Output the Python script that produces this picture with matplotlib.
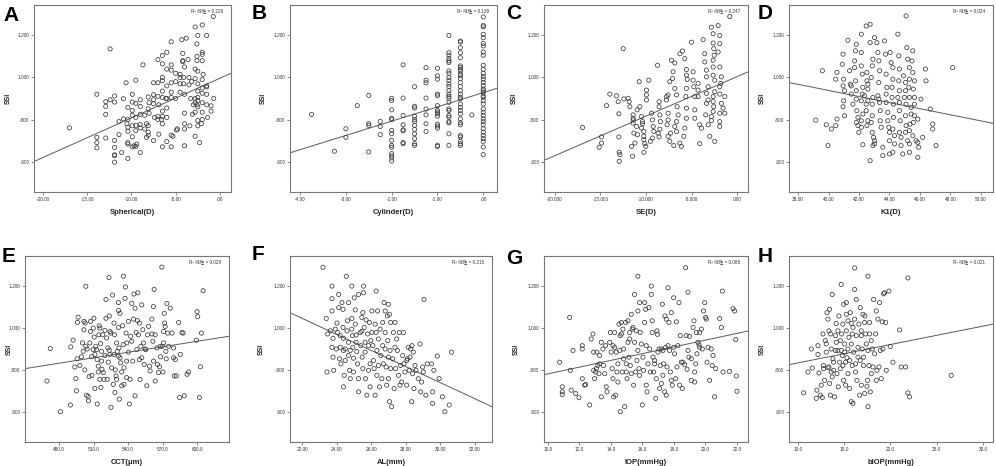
import matplotlib
matplotlib.use('Agg')
import matplotlib.pyplot as plt
from matplotlib.ticker import FuncFormatter

# points: (x value, SSI)
spherical_pts = [
    (-17.0, 0.76), (-13.9, 0.92), (-13.9, 0.715), (-13.9, 0.69), (-13.9, 0.665), (-12.9, 0.885), (-12.9, 0.862),
    (-12.9, 0.824), (-12.9, 0.712), (-12.4, 1.136), (-12.4, 0.894), (-11.9, 0.912), (-11.9, 0.883), (-11.9, 0.70),
    (-11.9, 0.667), (-11.9, 0.632), (-11.9, 0.628), (-11.9, 0.597), (-11.4, 0.79), (-11.4, 0.728), (-11.1, 0.643),
    (-10.9, 0.899), (-10.9, 0.803), (-10.6, 0.975), (-10.5, 0.78), (-10.4, 0.763), (-10.4, 0.615), (-10.4, 0.744),
    (-10.4, 0.683), (-10.4, 0.858), (-10.4, 0.80), (-10.4, 0.69), (-9.9, 0.92), (-9.9, 0.883), (-9.9, 0.843),
    (-9.9, 0.82), (-9.9, 0.77), (-9.9, 0.718), (-9.9, 0.67), (-9.7, 0.675), (-9.5, 0.987), (-9.5, 0.877), (-9.5, 0.81),
    (-9.5, 0.772), (-9.5, 0.747), (-9.5, 0.672), (-9.4, 0.683), (-9.0, 0.894), (-9.0, 0.862), (-9.0, 0.824),
    (-9.0, 0.776), (-9.0, 0.643), (-9.0, 0.76), (-8.7, 1.06), (-8.5, 0.82), (-8.5, 0.755), (-8.3, 0.78), (-8.3, 0.715),
    (-8.1, 0.907), (-8.1, 0.851), (-8.1, 0.771), (-8.1, 0.74), (-8.1, 0.725), (-8.0, 0.83), (-8.0, 0.88), (-7.5, 0.918),
    (-7.5, 0.894), (-7.5, 0.875), (-7.5, 0.70), (-7.5, 0.975), (-7.4, 0.81), (-7.0, 1.085), (-7.0, 0.975), (-7.0, 0.91),
    (-7.0, 0.80), (-7.0, 0.815), (-6.9, 0.73), (-6.9, 0.87), (-6.5, 1.105), (-6.5, 1.065), (-6.5, 1.0), (-6.5, 0.985),
    (-6.5, 0.935), (-6.5, 0.905), (-6.5, 0.84), (-6.5, 0.815), (-6.5, 0.78), (-6.5, 0.67), (-6.6, 0.80), (-6.0, 1.12),
    (-6.0, 1.04), (-6.0, 0.96), (-6.0, 0.90), (-6.0, 0.855), (-6.0, 0.81), (-6.0, 0.695), (-6.1, 0.9), (-5.5, 1.17),
    (-5.5, 1.06), (-5.5, 1.035), (-5.5, 0.975), (-5.5, 0.93), (-5.5, 0.905), (-5.5, 0.725), (-5.5, 0.67), (-5.3, 0.72),
    (-5.0, 0.90), (-5.0, 1.02), (-5.0, 0.98), (-4.8, 0.755), (-4.9, 0.75), (-4.5, 0.97), (-4.5, 1.0), (-4.5, 1.015),
    (-4.5, 0.93), (-4.3, 1.18), (-4.2, 1.115), (-4.2, 1.08), (-4.2, 1.075), (-4.1, 1.0), (-4.1, 0.97), (-4.0, 0.92),
    (-4.0, 0.83), (-4.0, 0.78), (-4.0, 0.755), (-4.0, 0.675), (-4.0, 1.05), (-3.8, 1.187), (-3.6, 1.085), (-3.5, 1.0),
    (-3.5, 0.965), (-3.4, 0.77), (-3.3, 0.9), (-3.2, 0.98), (-3.1, 0.825), (-3.0, 0.87), (-2.8, 1.24), (-2.8, 1.04),
    (-2.8, 0.995), (-2.8, 0.9), (-2.8, 0.88), (-2.8, 0.835), (-2.8, 0.72), (-2.5, 1.2), (-2.6, 1.16), (-2.6, 1.1),
    (-2.6, 1.08), (-2.5, 1.03), (-2.5, 0.97), (-2.5, 0.935), (-2.5, 0.905), (-2.5, 0.89), (-2.5, 0.86), (-2.5, 0.795),
    (-2.5, 0.77), (-2.3, 0.69), (-2.6, 0.87), (-2.0, 1.25), (-2.0, 1.12), (-2.0, 1.11), (-2.0, 1.08), (-1.9, 1.015),
    (-2.0, 0.99), (-2.0, 0.95), (-2.0, 0.925), (-2.0, 0.88), (-2.0, 0.835), (-2.0, 0.80), (-2.1, 0.78), (-1.5, 1.2),
    (-1.5, 0.96), (-1.5, 0.955), (-1.5, 0.92), (-1.5, 0.87), (-1.4, 0.81), (-1.0, 0.865), (-1.0, 0.84), (-0.75, 1.29),
    (-0.7, 0.9),
]

# cylinder is recorded in 0.25 D steps, SSI values per step
cyl_levels = [-3.75, -3.25, -3.0, -2.75, -2.5, -2.25, -2.0, -1.75, -1.5, -1.25, -1.0, -0.75, -0.5, -0.25, 0.0]
cyl_ssi = [
    [0.824],
    [0.649],
    [0.756, 0.715],
    [0.866],
    [0.915, 0.780, 0.772, 0.646],
    [0.791, 0.767, 0.728],
    [0.901, 0.89, 0.846, 0.806, 0.8, 0.748, 0.732, 0.701, 0.677, 0.668, 0.638, 0.627, 0.617, 0.602],
    [1.06, 0.902, 0.819, 0.775, 0.751, 0.746, 0.69, 0.685],
    [0.956, 0.863, 0.855, 0.816, 0.8, 0.79, 0.772, 0.753, 0.732, 0.709, 0.685, 0.677],
    [1.047, 0.987, 0.975, 0.902, 0.85, 0.822, 0.78, 0.743],
    [1.044, 1.008, 0.992, 0.921, 0.913, 0.866, 0.843, 0.835, 0.827, 0.816, 0.778, 0.769, 0.759, 0.677, 0.672],
    [1.2, 1.118, 1.106, 1.09, 1.079, 1.071, 1.031, 1.02, 1.0, 0.987, 0.969, 0.957, 0.937, 0.921, 0.91, 0.901, 0.882,
     0.85, 0.843, 0.819, 0.811, 0.79, 0.784, 0.732, 0.677],
    [1.173, 1.169, 1.142, 1.118, 1.094, 1.055, 1.047, 1.039, 1.031, 1.016, 1.008, 0.995, 0.976, 0.957, 0.937, 0.921,
     0.906, 0.898, 0.874, 0.858, 0.843, 0.827, 0.803, 0.784, 0.775, 0.724, 0.717, 0.696, 0.685, 0.677],
    [0.822],
    [1.288, 1.247, 1.241, 1.205, 1.189, 1.162, 1.15, 1.121, 1.106, 1.058, 1.039, 1.02, 1.005, 0.992, 0.976, 0.961,
     0.945, 0.937, 0.929, 0.913, 0.906, 0.89, 0.874, 0.85, 0.835, 0.819, 0.803, 0.79, 0.775, 0.756, 0.74, 0.724,
     0.709, 0.696, 0.669, 0.633],
]

se_pts = [
    (-16.97, 0.762), (-15.14, 0.668), (-14.88, 0.688), (-14.88, 0.717), (-14.33, 0.866), (-13.97, 0.921),
    (-13.24, 0.913), (-13.05, 0.885), (-12.98, 0.827), (-12.98, 0.717), (-12.94, 0.644), (-12.87, 0.633),
    (-12.94, 0.601), (-12.5, 1.137), (-12.43, 0.898), (-11.96, 0.901), (-11.85, 0.885), (-11.77, 0.861),
    (-11.59, 0.672), (-11.48, 0.625), (-11.41, 0.822), (-11.41, 0.806), (-11.41, 0.798), (-11.41, 0.783),
    (-11.33, 0.735), (-11.22, 0.688), (-11.04, 0.767), (-10.97, 0.846), (-10.93, 0.728), (-10.75, 0.98),
    (-10.68, 0.861), (-10.49, 0.814), (-10.38, 0.79), (-10.38, 0.78), (-10.49, 0.759), (-10.24, 0.743),
    (-10.24, 0.72), (-10.24, 0.704), (-10.13, 0.685), (-10.02, 0.672), (-10.24, 0.644), (-9.95, 0.94),
    (-9.95, 0.917), (-9.95, 0.893), (-9.69, 0.987), (-9.40, 0.83), (-9.29, 0.798), (-9.21, 0.767), (-9.14, 0.743),
    (-9.29, 0.712), (-9.51, 0.696), (-8.74, 1.058), (-8.56, 0.885), (-8.56, 0.861), (-8.48, 0.822), (-8.41, 0.79),
    (-8.48, 0.754), (-8.67, 0.735), (-8.56, 0.717), (-7.75, 0.909), (-7.75, 0.893), (-7.57, 0.917), (-7.57, 0.83),
    (-7.57, 0.798), (-7.68, 0.775), (-7.57, 0.72), (-7.39, 0.696), (-7.31, 0.735), (-7.39, 0.98), (-7.09, 0.995),
    (-7.02, 1.027), (-7.20, 1.082), (-6.84, 1.069), (-6.84, 0.948), (-6.65, 0.917), (-6.58, 0.861), (-6.47, 0.822),
    (-6.65, 0.79), (-6.84, 0.767), (-6.65, 0.743), (-6.95, 0.676), (-6.29, 0.688), (-6.11, 0.672), (-6.29, 1.113),
    (-6.0, 1.126), (-5.74, 1.09), (-5.56, 1.038), (-5.56, 1.011), (-5.48, 0.991), (-5.56, 0.948), (-5.63, 0.909),
    (-5.56, 0.854), (-5.56, 0.806), (-5.74, 0.759), (-5.85, 0.72), (-5.01, 1.168), (-4.83, 1.027), (-4.83, 0.987),
    (-4.75, 0.956), (-4.64, 0.909), (-4.64, 0.846), (-4.64, 0.806), (-4.28, 0.972), (-4.28, 0.94), (-4.28, 0.909),
    (-4.10, 0.775), (-3.91, 0.759), (-3.73, 1.18), (-3.55, 1.113), (-3.55, 1.074), (-3.36, 1.035), (-3.36, 1.003),
    (-3.18, 0.956), (-3.36, 0.924), (-3.18, 0.893), (-3.36, 0.877), (-3.44, 0.822), (-3.18, 0.775), (-4.10, 0.685),
    (-2.82, 1.239), (-2.63, 1.208), (-2.63, 1.164), (-2.56, 1.137), (-2.52, 1.106), (-2.63, 1.082), (-2.63, 1.05),
    (-2.63, 1.011), (-2.45, 0.987), (-2.45, 0.932), (-2.63, 0.909), (-2.63, 0.885), (-2.56, 0.861), (-2.63, 0.838),
    (-2.82, 0.814), (-2.82, 0.795), (-3.0, 0.72), (-2.45, 0.696), (-2.08, 1.247), (-1.9, 1.2), (-1.9, 1.161),
    (-2.08, 1.121), (-1.9, 1.05), (-1.72, 1.003), (-1.79, 0.972), (-1.9, 0.956), (-1.9, 0.921), (-1.72, 0.877),
    (-1.9, 0.83), (-1.9, 0.79), (-1.9, 0.767), (-1.35, 0.909), (-1.54, 0.854), (-1.35, 0.83), (-0.8, 1.29),
]

k1_pts = [
    (39.16, 0.797), (39.59, 1.032), (39.85, 0.775), (39.96, 0.676), (40.18, 0.755), (40.55, 1.024), (40.55, 0.802),
    (40.47, 0.771), (40.47, 0.992), (40.95, 1.111), (40.90, 1.063), (40.99, 0.992), (40.95, 0.960), (41.05, 0.937),
    (40.99, 0.889), (40.95, 0.861), (41.05, 0.818), (41.27, 1.177), (41.38, 1.032), (41.43, 0.968), (41.49, 0.960),
    (41.49, 0.921), (41.60, 0.873), (41.71, 1.079), (41.71, 1.047), (41.82, 1.158), (41.77, 1.127), (41.77, 0.984),
    (41.82, 0.937), (41.82, 0.897), (41.86, 0.842), (41.93, 0.810), (41.99, 0.739), (41.82, 0.786), (41.93, 0.771),
    (42.15, 1.206), (42.15, 1.119), (42.15, 1.055), (42.21, 1.016), (42.25, 0.953), (42.21, 0.921), (42.15, 0.889),
    (42.25, 0.826), (42.15, 0.794), (42.15, 0.763), (42.25, 0.680), (42.36, 0.913), (42.47, 1.245), (42.52, 1.024),
    (42.52, 0.984), (42.58, 0.968), (42.58, 0.945), (42.47, 0.873), (42.47, 0.842), (42.52, 0.771), (42.58, 0.889),
    (42.58, 0.794), (42.73, 0.604), (42.73, 1.253), (42.73, 1.166), (42.91, 1.087), (42.87, 1.055), (42.80, 1.0),
    (42.91, 0.905), (42.87, 0.873), (42.87, 0.818), (42.80, 0.786), (42.87, 0.739), (42.95, 0.715), (43.02, 0.699),
    (43.02, 0.684), (42.91, 0.676), (43.02, 1.19), (43.17, 1.166), (43.24, 1.119), (43.30, 1.079), (43.35, 1.032),
    (43.30, 0.976), (43.24, 0.913), (43.30, 0.897), (43.35, 0.881), (43.39, 0.842), (43.39, 0.794), (43.45, 0.763),
    (43.56, 0.668), (43.56, 0.628), (43.67, 1.174), (43.74, 1.111), (43.78, 1.016), (43.83, 0.953), (43.78, 0.921),
    (43.78, 0.881), (43.89, 0.834), (43.89, 0.794), (43.96, 0.763), (44.0, 0.739), (44.0, 0.699), (44.0, 0.636),
    (44.04, 1.119), (44.11, 1.071), (44.22, 1.047), (44.22, 0.992), (44.17, 0.953), (44.17, 0.905), (44.26, 0.873),
    (44.26, 0.810), (44.22, 0.755), (44.33, 0.723), (44.33, 0.684), (44.22, 0.644), (44.55, 1.206), (44.61, 1.103),
    (44.65, 1.040), (44.61, 0.984), (44.65, 0.937), (44.55, 0.905), (44.65, 0.881), (44.65, 0.842), (44.70, 0.794),
    (44.65, 0.739), (44.76, 0.715), (44.76, 0.676), (44.87, 0.636), (44.92, 1.008), (45.05, 0.976), (45.05, 0.937),
    (44.98, 0.905), (45.09, 0.873), (45.05, 0.818), (45.09, 0.771), (45.05, 0.739), (45.20, 0.699), (45.09, 1.293),
    (45.14, 1.142), (45.20, 1.087), (45.31, 1.047), (45.31, 0.992), (45.27, 0.953), (45.31, 0.905), (45.42, 0.858),
    (45.42, 0.826), (45.35, 0.778), (45.31, 0.747), (45.31, 0.684), (45.31, 0.644), (45.53, 1.127), (45.48, 1.079),
    (45.53, 1.024), (45.64, 0.984), (45.57, 0.945), (45.64, 0.905), (45.64, 0.873), (45.64, 0.818), (45.57, 0.786),
    (45.53, 0.723), (45.75, 0.699), (45.86, 0.620), (45.86, 0.802), (45.86, 0.691), (45.92, 0.668), (46.07, 0.897),
    (46.18, 0.715), (46.36, 1.040), (46.40, 0.984), (46.68, 0.850), (46.84, 0.778), (46.84, 0.755), (47.06, 0.676),
    (48.15, 1.047),
]

cct_pts = [
    (469.5, 0.747), (472.4, 0.902), (481.2, 0.600), (489.9, 0.632), (490.2, 0.910), (492.2, 0.942), (493.7, 0.814),
    (494.6, 0.758), (495.1, 0.700), (495.7, 0.853), (496.0, 1.027), (496.6, 1.052), (498.1, 0.821), (499.5, 0.863),
    (500.4, 0.929), (501.0, 0.889), (501.6, 0.992), (501.8, 1.032), (502.4, 0.800), (502.7, 1.024), (503.3, 1.200),
    (503.3, 0.913), (503.9, 0.679), (504.5, 0.900), (505.3, 0.673), (505.6, 0.652), (506.2, 0.768), (506.8, 0.929),
    (507.4, 1.032), (507.4, 0.984), (508.3, 0.863), (508.5, 0.774), (509.7, 0.897), (509.7, 1.0), (510.3, 1.047),
    (510.6, 0.957), (511.2, 0.874), (511.2, 0.711), (512.0, 0.913), (512.6, 0.897), (513.2, 0.850), (513.2, 0.637),
    (514.1, 0.818), (514.1, 0.790), (514.7, 0.968), (515.0, 1.011), (515.5, 1.0), (515.5, 0.755), (516.1, 0.926),
    (516.4, 0.716), (517.0, 0.889), (517.0, 0.842), (517.3, 0.803), (517.9, 0.968), (518.5, 0.787), (519.0, 0.755),
    (519.9, 0.989), (519.9, 0.869), (520.8, 1.137), (520.8, 1.047), (521.4, 0.953), (521.9, 0.755), (522.5, 0.905),
    (522.8, 0.837), (523.4, 1.242), (523.7, 1.058), (523.7, 0.894), (524.3, 0.874), (524.3, 0.984), (524.9, 0.976),
    (525.2, 0.621), (525.7, 0.810), (526.6, 1.158), (527.2, 0.731), (527.8, 1.024), (527.8, 0.874), (528.4, 0.968),
    (528.6, 0.692), (528.9, 0.800), (529.5, 0.771), (530.1, 0.929), (530.1, 0.755), (530.7, 0.889), (531.6, 1.122),
    (531.6, 1.003), (531.6, 0.866), (531.8, 1.084), (532.1, 0.905), (532.4, 0.660), (533.0, 0.858), (533.0, 1.071),
    (533.6, 0.834), (534.5, 0.790), (534.5, 0.724), (535.3, 1.011), (535.9, 1.248), (535.9, 0.921), (536.5, 0.810),
    (536.5, 0.731), (537.4, 1.142), (537.7, 1.197), (538.3, 0.976), (538.8, 0.929), (538.8, 0.842), (538.8, 0.763),
    (540.3, 1.032), (540.3, 0.885), (541.2, 0.637), (541.8, 0.755), (542.3, 0.961), (543.2, 1.118), (543.2, 0.937),
    (544.1, 0.842), (544.7, 1.043), (545.2, 1.163), (546.1, 1.095), (546.1, 0.676), (547.0, 0.979), (547.6, 0.897),
    (548.2, 1.036), (548.5, 1.169), (549.0, 0.968), (549.9, 0.850), (549.9, 1.024), (550.5, 0.755), (551.1, 0.913),
    (551.9, 0.858), (551.9, 1.111), (552.8, 0.992), (553.4, 0.929), (554.0, 0.826), (554.9, 0.900), (555.4, 0.897),
    (556.3, 0.724), (556.9, 0.968), (557.8, 1.008), (558.6, 0.818), (559.2, 0.795), (560.7, 1.043), (560.7, 0.972),
    (561.6, 0.937), (562.1, 0.842), (562.1, 1.103), (562.7, 1.185), (563.6, 0.747), (563.6, 0.968), (565.1, 0.905),
    (565.6, 0.826), (566.5, 0.787), (567.4, 0.815), (568.0, 0.913), (568.3, 0.863), (569.4, 1.292), (569.7, 0.913),
    (570.3, 0.790), (570.9, 0.984), (570.9, 0.929), (571.5, 1.071), (571.8, 1.024), (572.3, 1.008), (572.9, 0.889),
    (573.2, 0.853), (573.8, 1.118), (574.4, 0.976), (575.3, 0.913), (576.7, 1.095), (578.2, 0.976), (579.6, 0.905),
    (579.6, 0.858), (580.2, 0.771), (581.1, 0.850), (582.0, 0.771), (584.0, 1.027), (584.9, 0.668), (585.4, 0.874),
    (586.9, 0.979), (587.8, 0.976), (588.9, 0.676), (591.3, 0.779), (592.7, 0.790), (599.4, 0.942), (600.0, 1.079),
    (600.6, 1.055), (602.1, 0.668), (602.9, 0.815), (603.8, 0.976), (605.3, 1.179),
]

al_pts = [
    (23.21, 1.291), (23.40, 1.046), (23.48, 0.972), (23.44, 0.790), (23.63, 0.987), (23.73, 0.908), (23.73, 1.082),
    (23.73, 1.141), (23.73, 1.201), (23.79, 0.951), (23.79, 0.861), (23.83, 0.798), (23.92, 0.995), (23.98, 0.900),
    (24.02, 1.024), (24.06, 0.979), (24.12, 1.098), (24.12, 1.161), (24.17, 0.853), (24.21, 0.964), (24.21, 0.908),
    (24.25, 0.829), (24.31, 1.122), (24.37, 1.090), (24.37, 1.003), (24.40, 0.951), (24.40, 0.893), (24.40, 0.719),
    (24.44, 0.774), (24.50, 0.900), (24.50, 0.845), (24.56, 1.248), (24.60, 0.987), (24.63, 1.035), (24.69, 1.122),
    (24.69, 0.932), (24.69, 0.869), (24.75, 0.798), (24.79, 0.758), (24.79, 0.893), (24.88, 1.201), (24.88, 1.046),
    (24.88, 0.995), (24.92, 0.964), (24.94, 0.908), (24.98, 0.856), (24.98, 0.790), (25.02, 1.145), (25.08, 1.087),
    (25.08, 1.019), (25.13, 0.967), (25.13, 0.932), (25.17, 0.888), (25.21, 0.829), (25.27, 0.758), (25.27, 0.695),
    (25.27, 1.161), (25.37, 0.979), (25.40, 0.916), (25.46, 1.051), (25.46, 0.985), (25.48, 0.861), (25.52, 0.806),
    (25.52, 1.074), (25.56, 1.201), (25.56, 1.169), (25.60, 1.003), (25.65, 0.932), (25.65, 0.885), (25.67, 0.758),
    (25.71, 1.039), (25.75, 0.679), (25.79, 0.972), (25.85, 0.916), (25.85, 0.798), (25.90, 1.027), (25.94, 0.719),
    (25.94, 0.829), (25.98, 0.940), (26.04, 1.082), (26.04, 0.979), (26.10, 0.916), (26.13, 0.845), (26.17, 0.806),
    (26.23, 1.019), (26.23, 0.679), (26.29, 1.177), (26.29, 0.979), (26.33, 0.893), (26.33, 0.774), (26.37, 1.082),
    (26.42, 0.948), (26.42, 0.821), (26.48, 0.719), (26.52, 0.995), (26.56, 0.869), (26.62, 0.758), (26.67, 1.027),
    (26.67, 0.916), (26.71, 0.829), (26.75, 1.122), (26.81, 1.082), (26.81, 0.979), (26.81, 0.900), (26.87, 0.814),
    (26.90, 0.727), (26.94, 1.058), (26.96, 0.940), (27.0, 0.861), (27.0, 1.114), (27.0, 0.758), (27.06, 1.066),
    (27.06, 0.648), (27.10, 0.893), (27.13, 1.027), (27.13, 0.806), (27.19, 0.624), (27.25, 0.853), (27.29, 0.979),
    (27.33, 0.711), (27.38, 1.027), (27.38, 0.908), (27.42, 0.806), (27.48, 0.948), (27.52, 0.893), (27.58, 0.774),
    (27.63, 0.979), (27.67, 0.727), (27.71, 0.821), (27.77, 0.742), (27.83, 0.869), (27.87, 0.979), (27.90, 0.829),
    (27.96, 0.790), (28.06, 0.845), (28.06, 0.727), (28.10, 0.853), (28.15, 0.908), (28.21, 0.798), (28.25, 0.861),
    (28.29, 0.900), (28.35, 0.648), (28.37, 0.916), (28.40, 0.782), (28.44, 0.885), (28.48, 0.711), (28.54, 0.821),
    (28.60, 0.798), (28.73, 0.758), (28.83, 0.924), (28.87, 0.695), (28.92, 0.742), (28.98, 0.814), (29.02, 0.790),
    (29.06, 1.137), (29.17, 0.679), (29.25, 0.829), (29.50, 0.829), (29.56, 0.695), (29.56, 0.640), (29.63, 0.798),
    (29.83, 0.866), (29.94, 0.758), (30.13, 0.671), (30.27, 0.600), (30.52, 0.632), (30.65, 0.885),
]

iop_pts = [
    (10.74, 0.837), (10.91, 0.719), (10.91, 0.695), (10.91, 0.682), (11.38, 1.051), (11.42, 0.798), (11.48, 0.703),
    (11.59, 0.893), (11.76, 0.687), (11.97, 0.667), (12.18, 0.900), (12.18, 0.916), (12.18, 0.758), (12.33, 0.727),
    (12.39, 0.73), (12.65, 0.632), (12.75, 0.948), (12.86, 0.972), (12.90, 0.885), (12.90, 0.798), (12.96, 0.758),
    (13.03, 0.790), (13.07, 0.806), (13.11, 0.885), (13.17, 0.821), (13.24, 0.782), (13.28, 0.829), (13.28, 0.869),
    (13.39, 0.671), (13.39, 0.932), (13.49, 0.900), (13.53, 0.821), (13.60, 0.782), (13.66, 0.916), (13.70, 0.719),
    (13.75, 0.695), (13.92, 0.932), (13.96, 0.979), (14.02, 0.885), (14.08, 0.806), (14.13, 0.916), (14.13, 0.758),
    (14.17, 0.671), (14.23, 0.908), (14.23, 0.979), (14.30, 0.679), (14.34, 0.885), (14.38, 0.790), (14.44, 0.742),
    (14.44, 0.829), (14.51, 1.019), (14.55, 0.893), (14.59, 0.964), (14.59, 0.600), (14.66, 1.027), (14.66, 0.972),
    (14.72, 0.790), (14.76, 0.995), (14.80, 0.900), (14.80, 0.853), (14.87, 0.624), (14.93, 1.027), (14.97, 0.829),
    (14.97, 0.790), (15.02, 0.758), (15.08, 1.035), (15.08, 0.932), (15.14, 0.861), (15.19, 0.979), (15.19, 0.948),
    (15.23, 0.821), (15.29, 0.782), (15.29, 1.066), (15.35, 0.995), (15.40, 1.003), (15.44, 0.727), (15.50, 0.932),
    (15.50, 1.161), (15.57, 0.790), (15.61, 0.987), (15.65, 0.845), (15.71, 1.248), (15.71, 1.082), (15.71, 0.893),
    (15.78, 0.806), (15.82, 1.122), (15.82, 0.774), (15.86, 0.979), (15.93, 0.924), (15.99, 0.632), (16.03, 0.861),
    (16.07, 0.798), (16.14, 1.027), (16.14, 1.122), (16.20, 1.090), (16.24, 0.916), (16.24, 0.727), (16.29, 0.695),
    (16.35, 0.829), (16.41, 1.098), (16.46, 0.900), (16.50, 0.790), (16.56, 1.201), (16.56, 1.161), (16.62, 1.035),
    (16.62, 0.979), (16.67, 0.861), (16.71, 0.790), (16.77, 0.845), (16.77, 0.829), (16.84, 0.664), (16.88, 0.758),
    (16.92, 0.987), (16.95, 0.97), (16.98, 0.885), (17.05, 0.900), (17.09, 0.711), (17.13, 0.821), (17.20, 0.900),
    (17.20, 0.735), (17.26, 1.114), (17.30, 0.893), (17.30, 0.774), (17.34, 0.829), (17.41, 0.695), (17.43, 1.058),
    (17.47, 0.908), (17.51, 1.043), (17.51, 0.679), (17.56, 0.814), (17.62, 0.916), (17.62, 1.193), (17.68, 1.027),
    (17.72, 0.893), (17.77, 0.790), (17.83, 1.074), (17.83, 0.750), (17.89, 0.727), (17.98, 1.145), (17.98, 0.908),
    (18.04, 0.877), (18.11, 0.758), (18.15, 1.030), (18.19, 0.814), (18.25, 0.916), (18.32, 1.122), (18.36, 0.727),
    (18.40, 0.964), (18.47, 0.837), (18.53, 0.711), (18.57, 0.837), (18.68, 0.825), (18.74, 1.289), (18.78, 0.964),
    (18.83, 0.803), (18.89, 1.172), (18.89, 0.893), (18.95, 0.861), (18.99, 0.961), (19.10, 0.853), (19.10, 0.750),
    (19.21, 1.003), (19.27, 1.035), (19.31, 0.790), (19.31, 0.742), (19.38, 0.829), (19.42, 0.979), (19.46, 0.877),
    (19.52, 0.932), (19.59, 0.919), (19.63, 0.979), (19.63, 0.908), (19.74, 0.995), (19.80, 0.900), (19.88, 1.082),
    (19.95, 1.122), (20.01, 1.051), (20.05, 1.043), (20.10, 0.837), (20.16, 0.908), (20.26, 0.750), (20.37, 0.900),
    (20.43, 0.821), (20.48, 0.869), (20.58, 0.671), (20.65, 0.806), (20.90, 1.046), (21.01, 1.003), (21.07, 1.177),
    (21.11, 0.790), (21.53, 0.793), (21.75, 1.093), (21.85, 1.082), (21.92, 0.945), (21.96, 0.771), (22.0, 0.698),
]

biop_pts = [
    (10.61, 0.690), (11.08, 0.790), (11.44, 0.900), (11.55, 0.809), (11.98, 0.664), (12.05, 0.703), (12.16, 0.916),
    (12.16, 0.874), (12.27, 0.785), (12.41, 0.679), (12.52, 0.727), (12.63, 0.668), (12.70, 0.972), (12.77, 0.821),
    (12.77, 0.806), (12.88, 0.750), (12.95, 0.940), (13.06, 0.924), (13.06, 0.885), (13.14, 1.074), (13.24, 1.043),
    (13.24, 0.810), (13.35, 0.987), (13.35, 0.814), (13.42, 1.090), (13.42, 0.735), (13.50, 0.679), (13.53, 0.972),
    (13.60, 0.900), (13.60, 0.790), (13.71, 1.161), (13.71, 0.766), (13.78, 0.853), (13.86, 0.798), (13.86, 0.837),
    (13.96, 0.671), (14.07, 0.964), (14.07, 0.893), (14.14, 1.022), (14.14, 0.932), (14.22, 0.782), (14.32, 0.987),
    (14.32, 0.893), (14.36, 0.719), (14.43, 1.058), (14.50, 0.837), (14.58, 0.806), (14.58, 0.940), (14.68, 1.209),
    (14.68, 0.893), (14.72, 0.972), (14.79, 0.869), (14.86, 1.019), (14.86, 0.821), (14.94, 0.750), (14.94, 1.114),
    (15.05, 0.885), (15.05, 0.924), (15.15, 0.727), (15.15, 0.837), (15.23, 1.122), (15.23, 1.066), (15.23, 0.987),
    (15.30, 0.858), (15.41, 1.035), (15.41, 0.900), (15.41, 0.782), (15.51, 0.956), (15.59, 0.845), (15.59, 0.711),
    (15.66, 1.074), (15.77, 1.022), (15.77, 0.924), (15.77, 0.648), (15.87, 0.821), (15.87, 0.972), (15.95, 0.640),
    (15.95, 1.003), (16.02, 0.885), (16.13, 1.288), (16.13, 1.185), (16.13, 1.043), (16.23, 0.829), (16.23, 0.790),
    (16.31, 0.964), (16.31, 1.137), (16.38, 0.750), (16.49, 0.908), (16.49, 0.861), (16.59, 1.019), (16.67, 0.679),
    (16.74, 1.098), (16.74, 0.845), (16.85, 0.964), (16.85, 0.727), (16.85, 0.987), (16.95, 0.900), (17.03, 1.066),
    (17.10, 0.861), (17.10, 0.821), (17.21, 1.027), (17.21, 0.687), (17.24, 1.058), (17.32, 0.972), (17.39, 0.924),
    (17.46, 0.722), (17.53, 0.750), (17.57, 1.248), (17.57, 0.893), (17.57, 0.624), (17.68, 0.821), (17.75, 1.027),
    (17.75, 0.972), (17.82, 0.695), (17.93, 0.782), (17.93, 0.940), (18.04, 0.900), (18.11, 0.814), (18.18, 1.137),
    (18.29, 0.877), (18.40, 0.972), (18.47, 1.082), (18.47, 0.750), (18.54, 0.798), (18.65, 1.043), (18.76, 0.814),
    (18.83, 1.122), (18.90, 0.893), (19.01, 0.758), (19.12, 1.030), (19.19, 0.900), (19.26, 1.164), (19.37, 1.169),
    (19.48, 1.027), (19.55, 0.798), (19.84, 1.177), (19.98, 0.912), (20.27, 0.837), (20.99, 0.991), (21.17, 0.814),
    (21.64, 0.814), (21.89, 1.240), (21.89, 0.690), (22.07, 0.671), (26.58, 0.774),
]

cyl_pts = [(lv, s) for lv, vals in zip(cyl_levels, cyl_ssi) for s in vals]

# fit lines as drawn in the reference (slope, intercept) and the R2 shown
panel_letters = ['A', 'B', 'C', 'D', 'E', 'F', 'G', 'H']
panel_xlabels = ['Spherical(D)', 'Cylinder(D)', 'SE(D)', 'K1(D)', 'CCT(μm)', 'AL(mm)', 'IOP(mmHg)', 'bIOP(mmHg)']
panel_r2 = ['0.226', '0.139', '0.247', '0.024', '0.028', '0.215', '0.085', '0.021']
fit_slope = [0.01888, 0.0679, 0.0188, -0.01448, 0.000874, -0.03846, 0.01614, 0.00879]
fit_intercept = [0.9964, 0.928, 1.004, 1.5176, 0.4124, 1.893, 0.6196, 0.7456]
panel_xticks = [[-20, -15, -10, -5, 0], [-4, -3, -2, -1, 0], [-20, -15, -10, -5, 0], [38, 40, 42, 44, 46, 48, 50],
                [480, 510, 540, 570, 600], [22, 24, 26, 28, 30, 32], [10, 12, 14, 16, 18, 20, 22], [10, 15, 20, 25, 30]]
panel_xdec = [2, 2, 3, 2, 1, 2, 1, 1]
panel_xlim = [(-21.0, 1.25), (-4.22, 0.3), (-21.2, 1.2), (37.4, 50.8), (450.4, 627.8), (21.3, 33.0), (9.75, 22.7),
              (9.03, 31.1)]
ssi_ticks = [0.6, 0.8, 1.0, 1.2]

all_pts = [spherical_pts, cyl_pts, se_pts, k1_pts, cct_pts, al_pts, iop_pts, biop_pts]

W, H = 996, 466
# axes boxes in pixels: left, top, right, bottom
boxes = [(34, 5, 231, 192), (290, 5, 497, 192), (544, 5, 748, 192), (789, 5, 993, 192),
         (25, 256, 229, 442), (290, 256, 492, 442), (544, 256, 748, 442), (789, 256, 993, 442)]
letter_pos = [(3, 6), (252, 4), (506, 4), (758, 4), (2, 247), (252, 245), (506, 249), (758, 247)]
ylab_x = [-0.11, -0.11, -0.127, -0.113, -0.06, -0.124, -0.118, -0.113]

plt.rcParams['font.family'] = ['Liberation Sans', 'Noto Sans CJK SC']


def spss_fmt(dec):
    def f(v, pos):
        s = f'{v:.{dec}f}'
        if s.startswith('-0.'):
            s = '-' + s[2:]
        elif s.startswith('0.'):
            s = s[1:]
        if s.startswith('-') and float(s) == 0:
            s = s[1:]
        return s
    return FuncFormatter(f)


fig = plt.figure(figsize=(W / 100, H / 100), dpi=100)

for i in range(8):
    l, t, r, b = boxes[i]
    ax = fig.add_axes([l / W, (H - b) / H, (r - l) / W, (b - t) / H])
    xs = [p[0] for p in all_pts[i]]
    ys = [p[1] for p in all_pts[i]]
    ax.scatter(xs, ys, s=9, facecolors='none', edgecolors='#3a3a3a', linewidths=0.55, zorder=2)
    ax.axline((0, fit_intercept[i]), slope=fit_slope[i], color='#5a5a5a', lw=0.7, zorder=1)

    ax.set_xlim(*panel_xlim[i])
    ax.set_ylim(0.455, 1.345)
    ax.set_xticks(panel_xticks[i])
    ax.set_yticks(ssi_ticks)
    ax.xaxis.set_major_formatter(spss_fmt(panel_xdec[i]))
    ax.yaxis.set_major_formatter(spss_fmt(3))
    ax.tick_params(direction='out', length=2, width=0.5, labelsize=3.4, pad=1.5,
                   color='#555555', labelcolor='#333333')
    for sp in ax.spines.values():
        sp.set_color('#777777')
        sp.set_linewidth(0.8)

    ax.set_xlabel(panel_xlabels[i], fontsize=5.5, fontweight='bold', color='#222222')
    ax.xaxis.set_label_coords(0.5, -0.09)
    ax.set_ylabel('SSI', fontsize=5, fontweight='bold', color='#222222')
    ax.yaxis.set_label_coords(ylab_x[i], 0.5)

    ax.text(1 - 8 / (r - l), 1 - 6 / (b - t), f'R² 线性 = {panel_r2[i]}', transform=ax.transAxes,
            ha='right', va='center', fontsize=3.3, color='#333333')

    lx, ly = letter_pos[i]
    fig.text(lx / W, 1 - ly / H, panel_letters[i], fontsize=15, fontweight='bold', ha='left', va='top')

fig.savefig('out.png', dpi=100)
